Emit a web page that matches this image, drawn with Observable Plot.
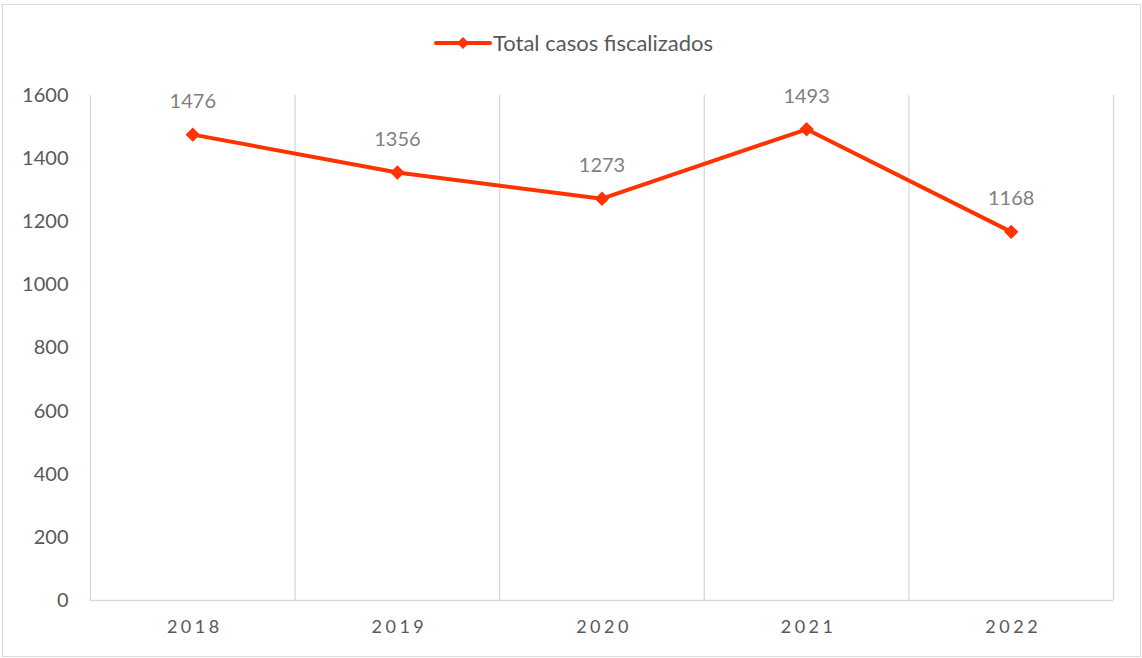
<!DOCTYPE html>
<html>
<head>
<meta charset="utf-8">
<script src="https://cdn.jsdelivr.net/npm/d3@7"></script>
<script src="https://cdn.jsdelivr.net/npm/@observablehq/plot@0.6"></script>
<style>
  html, body { margin: 0; padding: 0; background: #fff; }
  #frame {
    position: absolute; left: 2px; top: 4px; width: 1139px; height: 653px;
    border: 1px solid #d9d9d9; box-sizing: border-box; background: #fff;
    font-family: Lato, "Open Sans", sans-serif;
  }
  #legend {
    height: 75px; display: flex; justify-content: center; align-items: flex-start;
    box-sizing: border-box;
  }
  #legend .item { display: flex; align-items: center; margin-top: 24px; margin-left: 4px; }
  #legend span { font-size: 22px; color: #595959; margin-left: 1px; }
  #chart svg { display: block; }
  .xax text { letter-spacing: 3.5px; }
</style>
</head>
<body>
<div id="frame">
  <div id="legend"></div>
  <div id="chart"></div>
</div>
<script>
const years = [2018, 2019, 2020, 2021, 2022];
const values = [1476, 1356, 1273, 1493, 1168];
const seriesName = "Total casos fiscalizados";
const yTicks = [0, 200, 400, 600, 800, 1000, 1200, 1400, 1600];
const lineColor = "#FF3300";

const data = years.map((y, i) => ({year: y, value: values[i]}));
const boundaries = years.map(y => y - 0.5).concat([years[years.length - 1] + 0.5]);

// Legend
document.getElementById("legend").innerHTML =
  `<div class="item"><svg width="58" height="14"><line x1="2" y1="7" x2="56" y2="7" stroke="${lineColor}" stroke-width="4" stroke-linecap="round"/><path d="M29 1 L35 7 L29 13 L23 7 Z" fill="${lineColor}"/></svg><span>${seriesName}</span></div>`;

const chart = Plot.plot({
  width: 1137,
  height: 576,
  marginLeft: 87,
  marginRight: 27,
  marginTop: 15,
  marginBottom: 56,
  style: {fontFamily: "Lato, 'Open Sans', sans-serif", background: "white"},
  x: {domain: [boundaries[0], boundaries[boundaries.length - 1]], label: null},
  y: {domain: [0, 1600], label: null},
  marks: [
    Plot.ruleX(boundaries, {stroke: "#d9d9d9", strokeWidth: 1.3, strokeOpacity: 1}),
    Plot.ruleY([0], {stroke: "#d9d9d9", strokeWidth: 1.3, strokeOpacity: 1}),
    Plot.axisY({ticks: yTicks, tickFormat: d => String(d), tickSize: 0, tickPadding: 22, fontSize: 20, fill: "#595959", label: null}),
    Plot.axisX({ticks: years, tickFormat: d => String(d), tickSize: 0, tickPadding: 20, fontSize: 18, fill: "#595959", label: null,
      className: "xax", dx: 2}),
    Plot.line(data, {x: "year", y: "value", stroke: lineColor, strokeWidth: 4}),
    Plot.dot(data, {x: "year", y: "value", symbol: "diamond2", r: 6.5, fill: lineColor, stroke: "none"}),
    Plot.text(data, {x: "year", y: "value", text: d => String(d.value), dy: -33, fontSize: 20, fill: "#808080"})
  ]
});
document.getElementById("chart").appendChild(chart);
</script>
</body>
</html>
